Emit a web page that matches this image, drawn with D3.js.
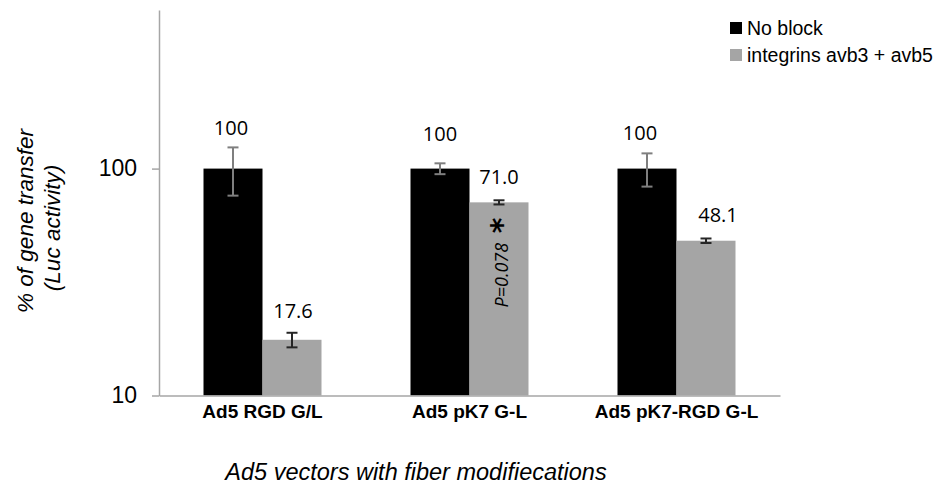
<!DOCTYPE html>
<html>
<head>
<meta charset="utf-8">
<script src="https://cdn.jsdelivr.net/npm/d3@7"></script>
<style>
    body { margin: 0; background: #fff; }
    svg { display: block; }
</style>
</head>
<body>
<div id="chart"></div>
<script>
// data
const categories = ["Ad5 RGD G/L", "Ad5 pK7 G-L", "Ad5 pK7-RGD G-L"];
const seriesNames = ["No block", "integrins avb3 + avb5"];
const noBlock = [100, 100, 100];
const noBlockErr = [24, 5.5, 16.7];
const integrins = [17.6, 71.0, 48.1];
const integrinsErr = [1.3, 1.5, 1.1];
const valueLabels = [["100", "17.6"], ["100", "71.0"], ["100", "48.1"]];
const yTicks = [10, 100];

// label nudges (px) as placed in the original figure: [dx, dy above bar top]
const labelNudge = [[[-2, 34], [1, 22]], [[0, 28], [0, 18]], [[-7, 29], [12, 19]]];

const width = 938, height = 488;
const colors = ["#000000", "#a5a5a5"];
const errColors = ["#7f7f7f", "#262626"];

const svg = d3.select("#chart")
    .append("svg")
    .attr("width", width)
    .attr("height", height);

// scales
const x = d3.scaleBand()
    .domain(categories)
    .range([159, 780]);
const barW = 59;
const xSub = d3.scaleBand()
    .domain(seriesNames)
    .range([0, barW * 2]);
const y = d3.scaleLog()
    .domain([10, 500])
    .range([395.5, 10]);

// rows for bars
const rows = [];
categories.forEach((c, i) => {
    rows.push({cat: c, s: 0, v: noBlock[i], e: noBlockErr[i], label: valueLabels[i][0], nudge: labelNudge[i][0]});
    rows.push({cat: c, s: 1, v: integrins[i], e: integrinsErr[i], label: valueLabels[i][1], nudge: labelNudge[i][1]});
});
const barX = d => x(d.cat) + x.bandwidth() / 2 - barW + xSub(seriesNames[d.s]);

// y axis
const yAxis = svg.append("g")
    .attr("transform", "translate(159,0)")
    .call(d3.axisLeft(y).tickValues(yTicks).tickFormat(d3.format("d")).tickSize(7).tickSizeOuter(0).tickPadding(15));
yAxis.select(".domain").attr("stroke", "#a6a6a6").attr("stroke-width", 1.5);
yAxis.selectAll(".tick line").attr("stroke", "#a6a6a6").attr("stroke-width", 1.5);
yAxis.selectAll(".tick text")
    .attr("font-family", "Liberation Sans, Arial, sans-serif")
    .attr("font-size", 23)
    .attr("fill", "#000");

// bars
svg.selectAll("rect.bar")
    .data(rows)
    .enter()
    .append("rect")
    .attr("class", "bar")
    .attr("x", d => barX(d))
    .attr("y", d => y(d.v))
    .attr("width", barW)
    .attr("height", d => y(10) - y(d.v))
    .attr("fill", d => colors[d.s]);

// x axis line
const xAxis = svg.append("g")
    .attr("transform", "translate(0,395.5)")
    .call(d3.axisBottom(x).tickSize(0).tickSizeOuter(0).tickPadding(9));
xAxis.select(".domain").attr("stroke", "#a6a6a6").attr("stroke-width", 1.5);
xAxis.selectAll(".tick text")
    .attr("font-family", "Liberation Sans, Arial, sans-serif")
    .attr("font-size", 19)
    .attr("font-weight", "bold")
    .attr("fill", "#000");

// error bars
const err = svg.selectAll("g.err")
    .data(rows)
    .enter()
    .append("g")
    .attr("class", "err")
    .attr("stroke", d => errColors[d.s])
    .attr("stroke-width", 2);
const cx = d => barX(d) + barW / 2;
err.append("line")
    .attr("x1", cx).attr("x2", cx)
    .attr("y1", d => y(d.v + d.e)).attr("y2", d => y(d.v - d.e));
err.append("line")
    .attr("x1", d => cx(d) - 5.5).attr("x2", d => cx(d) + 5.5)
    .attr("y1", d => y(d.v + d.e)).attr("y2", d => y(d.v + d.e));
err.append("line")
    .attr("x1", d => cx(d) - 5.5).attr("x2", d => cx(d) + 5.5)
    .attr("y1", d => y(d.v - d.e)).attr("y2", d => y(d.v - d.e));

// value labels
svg.selectAll("text.val")
    .data(rows)
    .enter()
    .append("text")
    .attr("class", "val")
    .attr("x", d => cx(d) + d.nudge[0])
    .attr("y", d => y(d.v) - d.nudge[1])
    .attr("text-anchor", "middle")
    .attr("font-family", "Open Sans, sans-serif")
    .attr("font-size", 20)
    .attr("fill", "#000")
    .text(d => d.label);

// significance note on the pK7 gray bar
const sigX = cx(rows[3]) + 3;
svg.append("text")
    .attr("transform", `translate(${sigX + 6},${y(10) - 88}) rotate(-90)`)
    .attr("font-family", "Open Sans, sans-serif")
    .attr("font-style", "italic")
    .attr("font-size", 18)
    .attr("fill", "#000")
    .text("P=0.078");
svg.append("text")
    .attr("transform", `translate(${sigX + 10},${y(10) - 170}) rotate(-90)`)
    .attr("text-anchor", "middle")
    .attr("font-family", "DejaVu Sans, sans-serif")
    .attr("font-weight", "bold")
    .attr("font-size", 30)
    .attr("fill", "#000")
    .text("*");

// axis titles
svg.append("text")
    .attr("transform", "translate(33,221) rotate(-90)")
    .attr("text-anchor", "middle")
    .attr("font-family", "Liberation Sans, Arial, sans-serif")
    .attr("font-style", "italic")
    .attr("font-size", 22.5)
    .attr("fill", "#000")
    .text("% of gene transfer");
svg.append("text")
    .attr("transform", "translate(60,228) rotate(-90)")
    .attr("text-anchor", "middle")
    .attr("font-family", "Liberation Sans, Arial, sans-serif")
    .attr("font-style", "italic")
    .attr("font-size", 22.5)
    .attr("fill", "#000")
    .text("(Luc activity)");
svg.append("text")
    .attr("x", 416)
    .attr("y", 480)
    .attr("text-anchor", "middle")
    .attr("font-family", "Liberation Sans, Arial, sans-serif")
    .attr("font-style", "italic")
    .attr("font-size", 23.5)
    .attr("fill", "#000")
    .text("Ad5 vectors with fiber modifiecations");

// legend
const legend = svg.selectAll("g.legend")
    .data(seriesNames)
    .enter()
    .append("g")
    .attr("class", "legend")
    .attr("transform", (d, i) => `translate(730,${22 + i * 27})`);
legend.append("rect")
    .attr("width", 12)
    .attr("height", 12)
    .attr("fill", (d, i) => colors[i]);
legend.append("text")
    .attr("x", 17)
    .attr("y", 13)
    .attr("font-family", "Liberation Sans, Arial, sans-serif")
    .attr("font-size", 19.5)
    .attr("fill", "#000")
    .text(d => d);
</script>
</body>
</html>
